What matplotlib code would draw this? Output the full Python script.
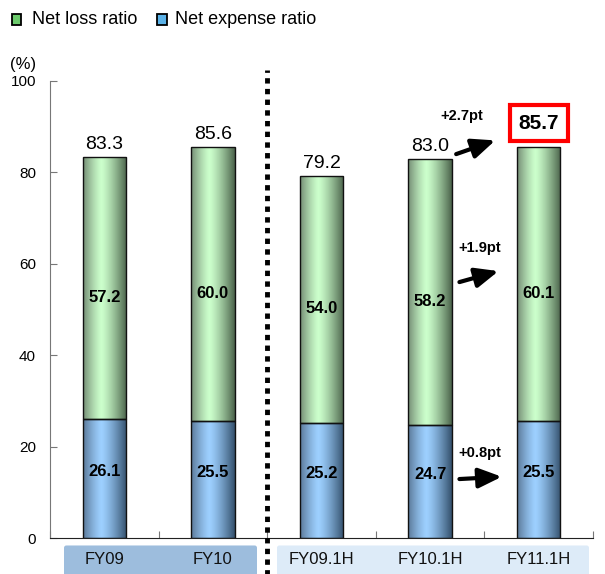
import numpy as np
import matplotlib
matplotlib.use("Agg")
import matplotlib.pyplot as plt
from matplotlib.colors import to_rgb
from matplotlib.patches import FancyBboxPatch, Rectangle
from matplotlib.lines import Line2D

plt.rcParams['font.family'] = ['Liberation Sans', 'DejaVu Sans']

categories = ["FY09", "FY10", "FY09.1H", "FY10.1H", "FY11.1H"]
expense = [26.1, 25.5, 25.2, 24.7, 25.5]
loss = [57.2, 60.0, 54.0, 58.2, 60.1]
totals = [83.3, 85.6, 79.2, 83.0, 85.7]
changes = ["+0.8pt", "+1.9pt", "+2.7pt"]

fig = plt.figure(figsize=(6.05, 5.74), dpi=100)
ax = fig.add_axes([50 / 605, 36 / 574, 543 / 605, 457 / 574])

x = np.arange(len(categories))
w = 0.4


def gradient_fill(bars, light, left_dark, right_dark):
    u = np.linspace(0, 1, 200)
    peak = 0.42
    lt = np.array(to_rgb(light))
    ld, rd = np.array(to_rgb(left_dark)), np.array(to_rgb(right_dark))
    rows = []
    for v in u:
        if v < peak:
            m = ((peak - v) / peak) ** 1.3
            rows.append(lt * (1 - m) + ld * m)
        else:
            m = ((v - peak) / (1 - peak)) ** 1.3
            rows.append(lt * (1 - m) + rd * m)
    img = np.array(rows)[None, :, :]
    for b in bars:
        bx, by = b.get_x(), b.get_y()
        im = ax.imshow(img, aspect='auto', interpolation='bilinear',
                       extent=[bx, bx + b.get_width(), by, by + b.get_height()],
                       zorder=2)
        im.set_clip_path(b)


blue_bars = ax.bar(x, expense, w, color='none', edgecolor='#111111', lw=1.0, zorder=3)
green_bars = ax.bar(x, loss, w, bottom=expense, color='none', edgecolor='#111111',
                    lw=1.0, zorder=3)
gradient_fill(blue_bars, '#9DD0FF', '#5A7898', '#34506C')
gradient_fill(green_bars, '#CCFFCC', '#748C74', '#4A624A')

ax.set_xlim(-0.5, len(categories) - 0.5)
ax.set_ylim(0, 100)
ax.set_yticks([0, 20, 40, 60, 80, 100])
ax.set_xticks(np.arange(len(categories) + 1) - 0.5)
ax.set_xticklabels([])
ax.tick_params(axis='y', direction='in', length=5, pad=10, labelsize=11, color='#777777')
ax.tick_params(axis='x', direction='in', length=5, color='#777777')
for s in ['top', 'right']:
    ax.spines[s].set_visible(False)
ax.spines['left'].set_color('#777777')
ax.spines['bottom'].set_color('#222222')

# segment labels
for i in range(len(categories)):
    ax.text(x[i], expense[i] / 2 + 1.5, f"{expense[i]:.1f}", ha='center', va='center',
            fontsize=12, fontweight='bold', zorder=4)
    ax.text(x[i], expense[i] + loss[i] / 2 - 2, f"{loss[i]:.1f}", ha='center', va='center',
            fontsize=12, fontweight='bold', zorder=4)
    if i < len(categories) - 1:
        ax.annotate(f"{totals[i]:.1f}", (x[i], totals[i]), xytext=(0, 3),
                    textcoords='offset points', ha='center', va='bottom', fontsize=14)

ax.text(x[-1], 90.8, f"{totals[-1]:.1f}", ha='center', va='center', fontsize=15,
        fontweight='bold', zorder=5,
        bbox=dict(boxstyle='square,pad=0.42', fc='white', ec='#FF0000', lw=3))

# change arrows between FY10.1H and FY11.1H
mid = (x[3] + x[4]) / 2
arrow_y = [(12.9, 13.4), (56.0, 58.4), (84.0, 87.0)]
text_y = [18.6, 63.5, 92.3]
text_x = [mid - 0.04, mid - 0.04, mid - 0.21]
arrow_x = [(mid - 0.23, mid + 0.16), (mid - 0.23, mid + 0.13), (mid - 0.26, mid + 0.10)]
for lab, (y0, y1), ty, tx, (ax0, ax1) in zip(changes, arrow_y, text_y, text_x, arrow_x):
    ax.text(tx, ty, lab, ha='center', va='center', fontsize=10.5, fontweight='bold')
    ax.annotate("", xy=(ax1, y1), xytext=(ax0, y0),
                arrowprops=dict(arrowstyle='-|>,head_length=1.4,head_width=0.6',
                                lw=3, color='black', shrinkA=0, shrinkB=0))

# dotted separator
ax.add_line(Line2D([1.5, 1.5], [-9, 102.5], color='black', lw=3.5,
                   linestyle=(0, (1.1, 1.1)), clip_on=False, zorder=6))

fig.text(10 / 605, 1 - 65 / 574, "(%)", ha='left', va='center', fontsize=12)

# category label bands
fig.patches.append(FancyBboxPatch((64 / 605, -0.02), 193 / 605, 40 / 574,
                                  boxstyle='round,pad=0,rounding_size=0.004',
                                  transform=fig.transFigure, fc='#9DBDDD', ec='none',
                                  zorder=-1))
fig.patches.append(FancyBboxPatch((277 / 605, -0.02), 312 / 605, 40 / 574,
                                  boxstyle='round,pad=0,rounding_size=0.004',
                                  transform=fig.transFigure, fc='#DDEBF8', ec='none',
                                  zorder=-1))
for i, c in enumerate(categories):
    ax.text(x[i], -4.8, c, ha='center', va='center', fontsize=12, color='#111111')

# legend
fig.patches.append(Rectangle((12 / 605, 1 - 25 / 574), 9 / 605, 11 / 574,
                             transform=fig.transFigure, fc='#6CCB6C', ec='black', lw=1.3))
fig.text(32 / 605, 1 - 19 / 574, "Net loss ratio", ha='left', va='center', fontsize=13)
fig.patches.append(Rectangle((157 / 605, 1 - 25 / 574), 10 / 605, 11 / 574,
                             transform=fig.transFigure, fc='#5BB2E8', ec='black', lw=1.3))
fig.text(175 / 605, 1 - 19 / 574, "Net expense ratio", ha='left', va='center', fontsize=13)

fig.savefig("out.png", dpi=100)
